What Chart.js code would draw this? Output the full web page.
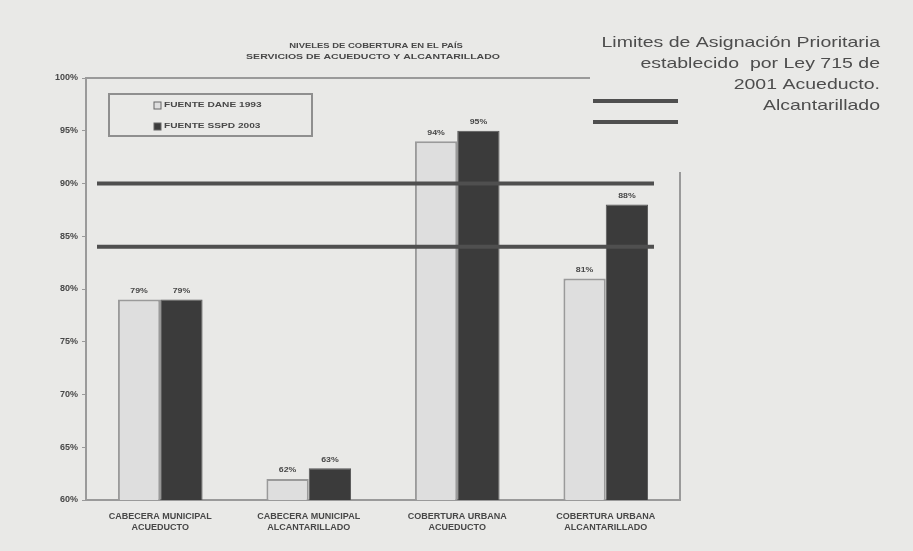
<!DOCTYPE html>
<html>
<head>
<meta charset="utf-8">
<script src="https://cdn.jsdelivr.net/npm/chart.js@4/dist/chart.umd.min.js"></script>
<style>
  html, body { margin: 0; padding: 0; background: #e9e9e7; }
  canvas { display: block; }
</style>
</head>
<body>
<canvas id="chart" width="913" height="551"></canvas>
<script>
// Coverage data (%)
const categories = [
    ['CABECERA MUNICIPAL', 'ACUEDUCTO'],
    ['CABECERA MUNICIPAL', 'ALCANTARILLADO'],
    ['COBERTURA URBANA', 'ACUEDUCTO'],
    ['COBERTURA URBANA', 'ALCANTARILLADO']
];
const seriesNames = ['FUENTE DANE 1993', 'FUENTE SSPD 2003'];
const dane = [79, 62, 94, 81];
const sspd = [79, 63, 95, 88];
const limits = [90, 84]; // acueducto, alcantarillado
const titleLines = ['NIVELES DE COBERTURA EN EL PAÍS', 'SERVICIOS DE ACUEDUCTO Y ALCANTARILLADO'];
const limitText = ['Limites de Asignación Prioritaria', 'establecido  por Ley 715 de', '2001 Acueducto.', 'Alcantarillado'];

const ink = '#484848';
const smallFont = 'bold 7px "Liberation Sans", Arial, sans-serif';

// text squeezed tall-and-wide like the small print of the original sheet
function wideText(ctx, text, x, y, stretch) {
    ctx.save();
    ctx.translate(x, y);
    ctx.scale(stretch, 1);
    ctx.fillText(text, 0, 0);
    ctx.restore();
}

// Title, frame, limit lines, value labels and the two legends
const decorations = {
    id: 'decorations',
    afterDatasetsDraw(chart) {
        const ctx = chart.ctx;
        const area = chart.chartArea;
        const y = chart.scales.y;
        ctx.save();

        // frame pieces
        ctx.strokeStyle = '#9a9a9a';
        ctx.lineWidth = 2;
        ctx.beginPath();
        ctx.moveTo(area.left, area.top);
        ctx.lineTo(590, area.top);
        ctx.moveTo(area.right, 172);
        ctx.lineTo(area.right, area.bottom);
        ctx.stroke();

        // limit lines
        ctx.strokeStyle = '#4f4f4f';
        ctx.lineWidth = 4;
        limits.forEach(v => {
            const py = y.getPixelForValue(v);
            ctx.beginPath();
            ctx.moveTo(area.left + 11, py);
            ctx.lineTo(area.right - 26, py);
            ctx.stroke();
        });

        // value labels above bars
        ctx.fillStyle = ink;
        ctx.font = smallFont;
        ctx.textAlign = 'center';
        ctx.textBaseline = 'bottom';
        chart.data.datasets.forEach((ds, i) => {
            chart.getDatasetMeta(i).data.forEach((bar, j) => {
                wideText(ctx, ds.data[j] + '%', bar.x, bar.y - 5, 1.25);
            });
        });

        // title
        ctx.textBaseline = 'middle';
        wideText(ctx, titleLines[0], 376, 46, 1.35);
        wideText(ctx, titleLines[1], 373, 57, 1.5);

        // series legend box
        ctx.strokeStyle = '#8f8f8f';
        ctx.lineWidth = 2;
        ctx.strokeRect(109, 94, 203, 42);
        chart.data.datasets.forEach((ds, i) => {
            const ly = 105 + i * 21;
            ctx.fillStyle = ds.backgroundColor;
            ctx.strokeStyle = '#666';
            ctx.lineWidth = 1;
            ctx.fillRect(154, ly - 3, 7, 7);
            ctx.strokeRect(154, ly - 3, 7, 7);
            ctx.fillStyle = ink;
            ctx.textAlign = 'left';
            wideText(ctx, ds.label, 164, ly, 1.45);
        });

        // limit legend
        ctx.font = '15px "Liberation Sans", Arial, sans-serif';
        ctx.fillStyle = '#4d4d4d';
        ctx.textAlign = 'right';
        limitText.forEach((t, i) => wideText(ctx, t, 880, 43 + i * 21, 1.3));
        ctx.strokeStyle = '#4f4f4f';
        ctx.lineWidth = 4;
        [101, 122].forEach(ly => {
            ctx.beginPath();
            ctx.moveTo(593, ly);
            ctx.lineTo(678, ly);
            ctx.stroke();
        });
        ctx.restore();
    }
};

new Chart(document.getElementById('chart'), {
    type: 'bar',
    data: {
        labels: categories,
        datasets: [
            { label: seriesNames[0], data: dane, backgroundColor: '#dedede', borderColor: '#9a9a9a', borderWidth: 2 },
            { label: seriesNames[1], data: sspd, backgroundColor: '#3b3b3b', borderColor: '#555555', borderWidth: 1 }
        ]
    },
    options: {
        responsive: false,
        animation: false,
        layout: { padding: { left: 0, right: 233, top: 78, bottom: 0 } },
        datasets: { bar: { barPercentage: 1, categoryPercentage: 0.57 } },
        plugins: {
            legend: { display: false },
            title: { display: false },
            tooltip: { enabled: false }
        },
        scales: {
            x: {
                grid: { display: false },
                border: { color: '#9a9a9a', width: 2 },
                ticks: { color: ink, font: { size: 9, weight: 'bold' }, padding: 3, maxRotation: 0 },
                afterFit(scale) { scale.height = 51; }
            },
            y: {
                min: 60,
                max: 100,
                grid: { drawOnChartArea: false, tickLength: 4, color: '#9a9a9a' },
                border: { color: '#9a9a9a', width: 2 },
                ticks: {
                    stepSize: 5,
                    color: ink,
                    font: { size: 9, weight: 'bold' },
                    padding: 4,
                    callback: v => v + '%'
                },
                afterFit(scale) { scale.width = 86; }
            }
        }
    },
    plugins: [decorations]
});
</script>
</body>
</html>
